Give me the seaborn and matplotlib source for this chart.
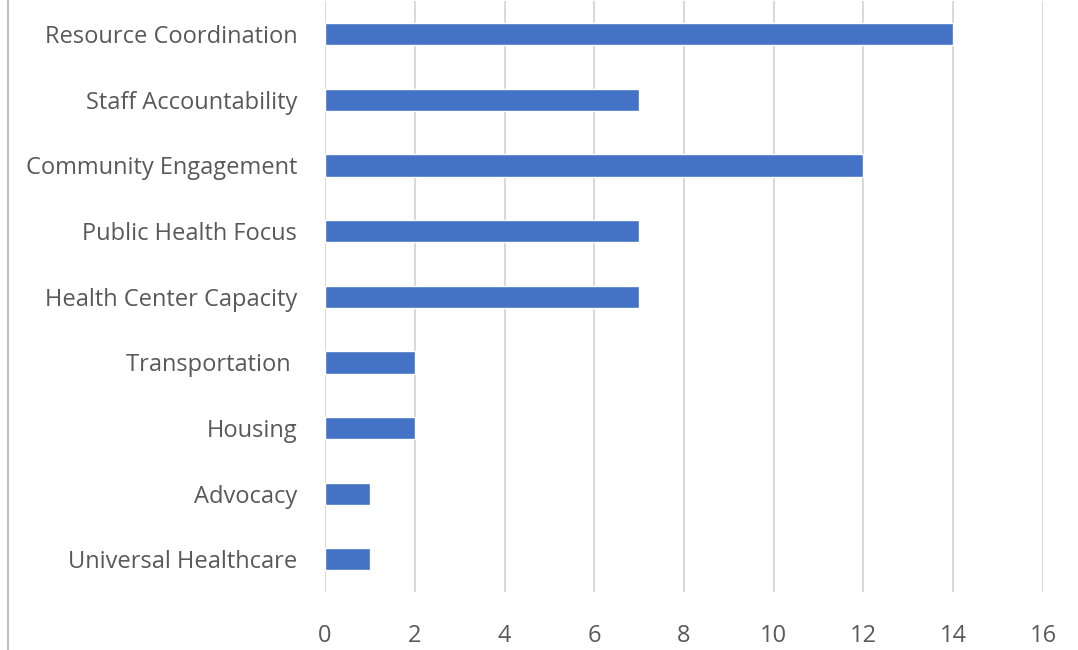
import matplotlib
matplotlib.use("Agg")
import matplotlib.pyplot as plt
import seaborn as sns
import pandas as pd
from matplotlib.lines import Line2D

categories = [
    "Resource Coordination",
    "Staff Accountability",
    "Community Engagement",
    "Public Health Focus",
    "Health Center Capacity",
    "Transportation ",
    "Housing",
    "Advocacy",
    "Universal Healthcare",
]
counts = [14, 7, 12, 7, 7, 2, 2, 1, 1]
x_ticks = [0, 2, 4, 6, 8, 10, 12, 14, 16]

df = pd.DataFrame({"category": categories, "count": counts})

sns.set_theme(style="white")
plt.rcParams["font.family"] = ["Open Sans", "DejaVu Sans"]

fig = plt.figure(figsize=(10.78, 6.5), dpi=100)
ax = fig.add_axes([0.3015, 0.089, 0.666, 0.909])

sns.barplot(data=df, x="count", y="category", color="#4472C4",
            width=0.34, saturation=1, ax=ax, zorder=3)

ax.set_xlim(0, 16)
ax.set_xticks(x_ticks)
ax.set_xticklabels([str(t) for t in x_ticks])
ax.xaxis.grid(True, color="#D9D9D9", linewidth=1.5, zorder=0)
ax.yaxis.grid(False)
for s in ax.spines.values():
    s.set_visible(False)
ax.set_xlabel("")
ax.set_ylabel("")
ax.tick_params(axis="y", length=0, pad=20, labelsize=17, labelcolor="#595959")
ax.tick_params(axis="x", length=0, pad=23, labelsize=17, labelcolor="#595959")

# thin frame line on the left edge of the figure
fig.add_artist(Line2D([0.0075, 0.0075], [0, 1], transform=fig.transFigure,
                      color="#BFBFBF", linewidth=1.5))

fig.savefig("out.png", dpi=100)
